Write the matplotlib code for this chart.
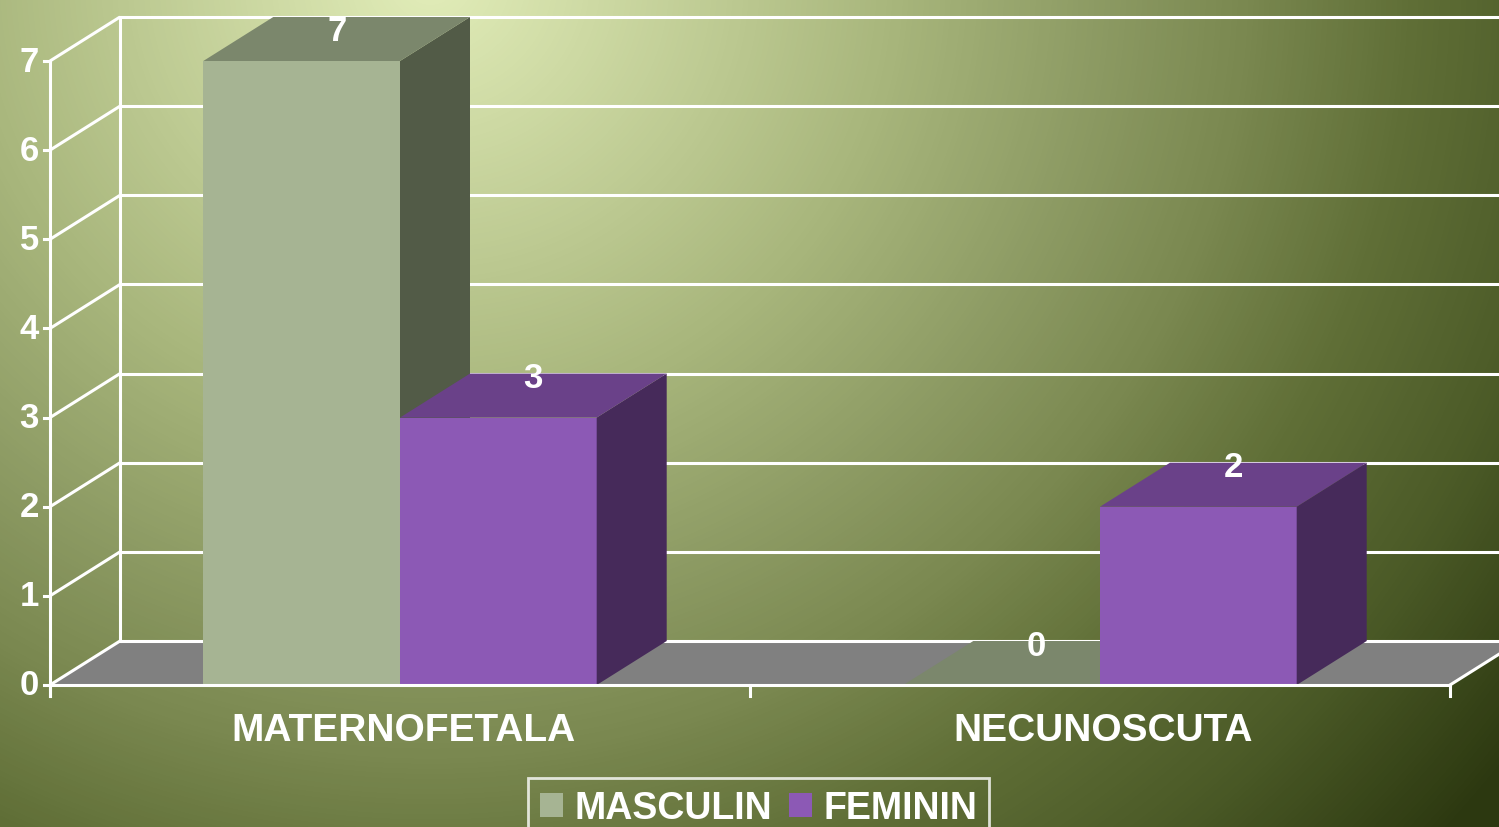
import numpy as np
import matplotlib
matplotlib.use("Agg")
import matplotlib.pyplot as plt
from matplotlib.patches import Polygon, Patch
from matplotlib.colors import LinearSegmentedColormap

# ---------------- data ----------------
categories = ["MATERNOFETALA", "NECUNOSCUTA"]
series_names = ["MASCULIN", "FEMININ"]
masculin = [7, 0]
feminin = [3, 2]
y_ticks = [0, 1, 2, 3, 4, 5, 6, 7]

# colours (front, top, side)
masc_colors = ("#a6b493", "#7b876c", "#525b47")
fem_colors = ("#8c59b5", "#6a4189", "#462a5a")

W, H = 1499, 828
fig = plt.figure(figsize=(W / 100, H / 100), dpi=100)
ax = fig.add_axes([0, 0, 1, 1])

# geometry (data units: x = category units, y = value units)
px_per_cat = 700.0
px_per_unit = (686 - 62) / 7.0
x0_px, y0_px = 50.0, 686.0
xmin = -x0_px / px_per_cat
xmax = (W - x0_px) / px_per_cat
ymin = -(H - y0_px) / px_per_unit
ymax = y0_px / px_per_unit
ax.set_xlim(xmin, xmax)
ax.set_ylim(ymin, ymax)
ax.axis("off")

dx = 70.0 / px_per_cat
dy = 44.0 / px_per_unit
ncat = len(categories)
ymaxv = y_ticks[-1]

# ---------------- background gradient ----------------
yy, xx = np.mgrid[0:H, 0:W]
d = np.hypot((xx - 430) * 1.0, (yy + 20) * 1.05)
stops = [(0.0, "#e2edb9"), (0.34, "#a8b67c"), (0.5, "#8b9962"), (0.6, "#7a8850"),
         (0.72, "#606f37"), (0.85, "#4b5a27"), (1.0, "#2c3810")]
cmap = LinearSegmentedColormap.from_list("bg", stops)
ax.imshow(d / 1360.0, cmap=cmap, vmin=0, vmax=1, extent=(xmin, xmax, ymin, ymax),
          origin="upper", aspect="auto", zorder=0, interpolation="bilinear")

lw = 2.2
wc = "white"
fam = "Liberation Sans"

# floor
ax.add_patch(Polygon([(0, 0), (ncat, 0), (ncat + dx, dy), (dx, dy)], closed=True,
                     facecolor="#808080", edgecolor="none", zorder=1))

# back wall gridlines and left wall diagonals
for t in y_ticks:
    ax.plot([dx, xmax + 1], [t + dy, t + dy], color=wc, lw=lw, zorder=2,
            solid_capstyle="butt")
    ax.plot([0, dx], [t, t + dy], color=wc, lw=lw, zorder=2, solid_capstyle="butt")
ax.plot([dx, dx], [dy, ymaxv + dy], color=wc, lw=lw, zorder=2)
ax.plot([0, 0], [-0.12, ymaxv], color=wc, lw=lw, zorder=2)

# ---------------- bars ----------------
bw = 0.281


def draw_bar(xl, v, cols, z):
    front, top, side = cols
    xr = xl + bw
    if v > 0:
        ax.add_patch(Polygon([(xl, 0), (xr, 0), (xr, v), (xl, v)], closed=True,
                             facecolor=front, edgecolor="none", zorder=z))
        ax.add_patch(Polygon([(xr, 0), (xr + dx, dy), (xr + dx, v + dy), (xr, v)],
                             closed=True, facecolor=side, edgecolor="none", zorder=z))
    ax.add_patch(Polygon([(xl, v), (xr, v), (xr + dx, v + dy), (xl + dx, v + dy)],
                         closed=True, facecolor=top, edgecolor="none", zorder=z))
    off = 0.2 if v + dy + 0.5 < ymax else 0.1
    ax.text(xl + bw / 2 + dx / 2, v + dy / 2 + off, str(v), color="white",
            fontsize=25, fontweight="bold", ha="center", va="center",
            family=fam, zorder=10)


for i in range(ncat):
    c = i + 0.5
    draw_bar(c - bw, masculin[i], masc_colors, 3 + i * 2)
    draw_bar(c, feminin[i], fem_colors, 4 + i * 2)

# front axis line and right floor edge
ax.plot([0, ncat], [0, 0], color=wc, lw=lw, zorder=8)
ax.plot([ncat, ncat + dx], [0, dy], color=wc, lw=lw, zorder=8)
for i in range(ncat + 1):
    ax.plot([i, i], [0, -0.12], color=wc, lw=lw, zorder=8)

# y ticks
for t in y_ticks:
    ax.plot([-0.009, 0], [t, t], color=wc, lw=lw, zorder=8)
    ax.text(-0.016, t, str(t), color="white", fontsize=25, fontweight="bold",
            ha="right", va="center", family=fam, zorder=10)

# category labels
for i, name in enumerate(categories):
    ax.text(i + 0.505, -0.51, name, color="white", fontsize=28, fontweight="bold",
            ha="center", va="center", family=fam, zorder=10)

# legend
handles = [Patch(facecolor=masc_colors[0], edgecolor="none"),
           Patch(facecolor=fem_colors[0], edgecolor="none")]
leg = ax.legend(handles, series_names, ncol=2, loc="upper left",
                bbox_to_anchor=(528 / W, 1 - 779 / H), bbox_transform=fig.transFigure,
                frameon=True, fancybox=False, handlelength=0.62, handleheight=0.62,
                handletextpad=0.3, columnspacing=0.45, borderpad=0.32, borderaxespad=0,
                prop={"family": fam, "weight": "bold", "size": 27})
leg.get_frame().set_edgecolor("white")
leg.get_frame().set_facecolor("none")
leg.get_frame().set_linewidth(2)
for t in leg.get_texts():
    t.set_color("white")
leg.set_zorder(20)

fig.savefig("out.png", dpi=100)
